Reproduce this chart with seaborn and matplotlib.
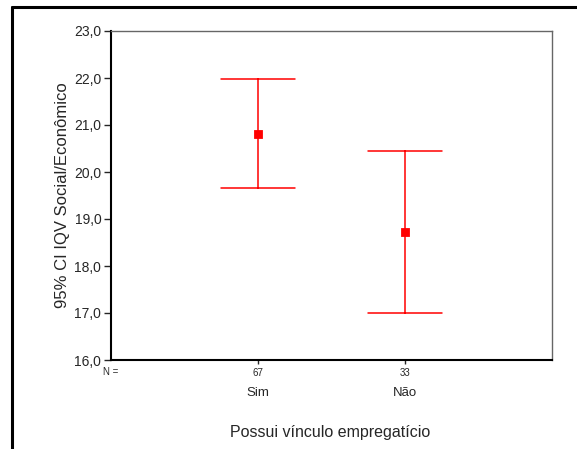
import numpy as np
import pandas as pd
import matplotlib
matplotlib.use("Agg")
import matplotlib.pyplot as plt
import matplotlib.transforms as mtransforms
from matplotlib.lines import Line2D
import seaborn as sns

# Data (95% CI of IQV Social/Econômico)
groups = ["Sim", "Não"]
n_counts = ["67", "33"]
ci_lower = [19.66, 17.01]
means = [20.81, 18.73]
ci_upper = [21.98, 20.45]

# long table: lower / mean / upper per group -> median = mean, range = CI
df = pd.DataFrame({
    "grupo": np.repeat(groups, 3),
    "valor": np.ravel(np.column_stack([ci_lower, means, ci_upper])),
})

sns.set_style("white")
plt.rcParams["font.family"] = ["Liberation Sans", "DejaVu Sans"]

fig = plt.figure(figsize=(5.77, 4.49), dpi=100)
ax = fig.add_axes([111 / 577, 1 - 360 / 449, 441 / 577, 329 / 449])

sns.pointplot(
    data=df, x="grupo", y="valor", order=groups,
    estimator=np.median, errorbar=lambda v: (v.min(), v.max()),
    color="#ff0000", markers="s", markersize=4, linestyle="none",
    capsize=0.5, err_kws={"linewidth": 1.1}, ax=ax,
)

ax.set_xlim(-1, 2)
ax.set_ylim(16, 23)
ax.set_yticks(np.arange(16, 24, 1))
ax.set_yticklabels([f"{v:.1f}".replace(".", ",") for v in np.arange(16, 24, 1)], fontsize=10)
ax.set_xticks([0, 1])
ax.set_xticklabels(n_counts, fontsize=7)
ax.tick_params(axis="y", direction="out", length=5, width=1, left=True, pad=2)
ax.tick_params(axis="x", direction="out", length=3, width=1, bottom=True, pad=3)

for side in ["left", "bottom"]:
    ax.spines[side].set_color("black")
    ax.spines[side].set_linewidth(1.5)
for side in ["top", "right"]:
    ax.spines[side].set_color("#666666")
    ax.spines[side].set_linewidth(1.0)

ax.set_xlabel("")
ax.set_ylabel("95% CI IQV Social/Econômico", fontsize=12, labelpad=3)

# category names below the N counts
trans = mtransforms.blended_transform_factory(ax.transData, fig.transFigure)
for i, g in enumerate(groups):
    ax.text(i, 1 - 393 / 449, g, transform=trans, ha="center", va="center", fontsize=9.5)
fig.text(103 / 577, 1 - 372 / 449, "N =", ha="left", va="center", fontsize=7)

fig.text(330 / 577, 1 - 433 / 449, "Possui vínculo empregatício", ha="center", va="center", fontsize=11.5)

# outer frame (only top and left visible)
fig.add_artist(Line2D([12 / 577, 12 / 577], [0, 1 - 7 / 449], transform=fig.transFigure, color="black", linewidth=2.2))
fig.add_artist(Line2D([12 / 577, 1], [1 - 7 / 449, 1 - 7 / 449], transform=fig.transFigure, color="black", linewidth=2.2))

fig.savefig("out.png", dpi=100)
